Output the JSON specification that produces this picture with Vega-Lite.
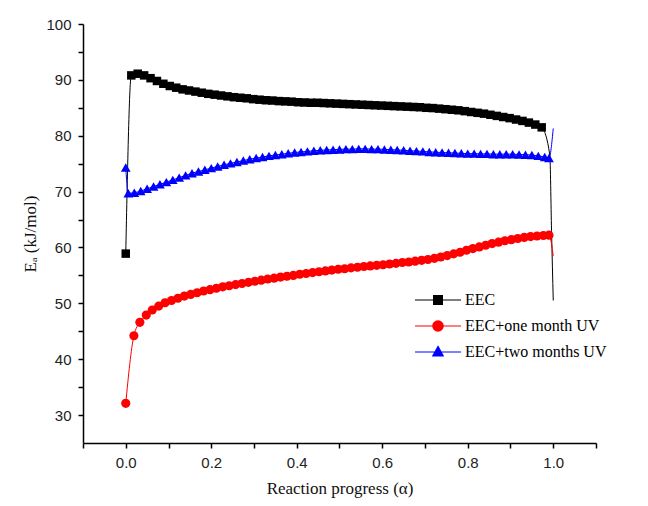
{
  "$schema": "https://vega.github.io/schema/vega-lite/v6.json",
  "width": 513,
  "height": 419,
  "autosize": {"type": "none"},
  "padding": {"left": 83, "top": 24, "right": 52, "bottom": 63},
  "background": "white",
  "config": {
    "view": {"stroke": null},
    "axis": {
      "grid": false,
      "domainColor": "#000000",
      "domainWidth": 1.5,
      "tickColor": "#000000",
      "tickWidth": 1.5,
      "tickSize": 5,
      "labelFont": "Liberation Sans",
      "labelFontSize": 15,
      "labelColor": "#222222",
      "labelPadding": 6,
      "titleFont": "Liberation Serif",
      "titleFontSize": 17,
      "titleFontWeight": "normal",
      "titleColor": "#111111"
    },
    "legend": {
      "orient": "none",
      "legendX": 347,
      "legendY": 268,
      "padding": 0,
      "labelFont": "Liberation Serif",
      "labelFontSize": 16,
      "labelColor": "#000000",
      "labelOffset": 19,
      "rowPadding": 10,
      "symbolSize": 64,
      "symbolOpacity": 1,
      "symbolStrokeWidth": 1.2
    }
  },
  "resolve": {"scale": {"color": "independent", "shape": "independent"}},
  "data": {
    "values": [
      {"s": "EEC", "a": 0, "e": 58.9},
      {"s": "EEC", "a": 0.013, "e": 90.8},
      {"s": "EEC", "a": 0.028, "e": 91.1},
      {"s": "EEC", "a": 0.043, "e": 90.8},
      {"s": "EEC", "a": 0.058, "e": 90.3},
      {"s": "EEC", "a": 0.073, "e": 89.8},
      {"s": "EEC", "a": 0.088, "e": 89.3},
      {"s": "EEC", "a": 0.103, "e": 88.9},
      {"s": "EEC", "a": 0.118, "e": 88.6},
      {"s": "EEC", "a": 0.133, "e": 88.3},
      {"s": "EEC", "a": 0.148, "e": 88.1},
      {"s": "EEC", "a": 0.163, "e": 87.9},
      {"s": "EEC", "a": 0.178, "e": 87.7},
      {"s": "EEC", "a": 0.193, "e": 87.5},
      {"s": "EEC", "a": 0.208, "e": 87.35},
      {"s": "EEC", "a": 0.223, "e": 87.2},
      {"s": "EEC", "a": 0.238, "e": 87.05},
      {"s": "EEC", "a": 0.253, "e": 86.9},
      {"s": "EEC", "a": 0.268, "e": 86.8},
      {"s": "EEC", "a": 0.283, "e": 86.7},
      {"s": "EEC", "a": 0.298, "e": 86.55},
      {"s": "EEC", "a": 0.313, "e": 86.45},
      {"s": "EEC", "a": 0.328, "e": 86.35},
      {"s": "EEC", "a": 0.343, "e": 86.3},
      {"s": "EEC", "a": 0.358, "e": 86.2},
      {"s": "EEC", "a": 0.373, "e": 86.15},
      {"s": "EEC", "a": 0.388, "e": 86.1},
      {"s": "EEC", "a": 0.403, "e": 86.0},
      {"s": "EEC", "a": 0.418, "e": 85.95},
      {"s": "EEC", "a": 0.433, "e": 85.9},
      {"s": "EEC", "a": 0.448, "e": 85.9},
      {"s": "EEC", "a": 0.463, "e": 85.85},
      {"s": "EEC", "a": 0.478, "e": 85.8},
      {"s": "EEC", "a": 0.493, "e": 85.75},
      {"s": "EEC", "a": 0.508, "e": 85.7},
      {"s": "EEC", "a": 0.523, "e": 85.65},
      {"s": "EEC", "a": 0.538, "e": 85.6},
      {"s": "EEC", "a": 0.553, "e": 85.55},
      {"s": "EEC", "a": 0.568, "e": 85.5},
      {"s": "EEC", "a": 0.583, "e": 85.45},
      {"s": "EEC", "a": 0.598, "e": 85.4},
      {"s": "EEC", "a": 0.613, "e": 85.35},
      {"s": "EEC", "a": 0.628, "e": 85.3},
      {"s": "EEC", "a": 0.643, "e": 85.25},
      {"s": "EEC", "a": 0.658, "e": 85.2},
      {"s": "EEC", "a": 0.673, "e": 85.15},
      {"s": "EEC", "a": 0.688, "e": 85.1},
      {"s": "EEC", "a": 0.703, "e": 85.0},
      {"s": "EEC", "a": 0.718, "e": 84.95},
      {"s": "EEC", "a": 0.733, "e": 84.85},
      {"s": "EEC", "a": 0.748, "e": 84.75},
      {"s": "EEC", "a": 0.763, "e": 84.65},
      {"s": "EEC", "a": 0.778, "e": 84.55},
      {"s": "EEC", "a": 0.793, "e": 84.4},
      {"s": "EEC", "a": 0.808, "e": 84.25},
      {"s": "EEC", "a": 0.823, "e": 84.1},
      {"s": "EEC", "a": 0.838, "e": 83.95},
      {"s": "EEC", "a": 0.853, "e": 83.75},
      {"s": "EEC", "a": 0.868, "e": 83.55},
      {"s": "EEC", "a": 0.883, "e": 83.35},
      {"s": "EEC", "a": 0.898, "e": 83.15},
      {"s": "EEC", "a": 0.913, "e": 82.9},
      {"s": "EEC", "a": 0.928, "e": 82.65},
      {"s": "EEC", "a": 0.943, "e": 82.35},
      {"s": "EEC", "a": 0.958, "e": 82.0},
      {"s": "EEC", "a": 0.973, "e": 81.5},
      {"s": "EEC", "a": 0.992, "e": 76.5},
      {"s": "EEC", "a": 0.996, "e": 63.0},
      {"s": "EEC", "a": 1.0, "e": 50.5},

      {"s": "EEC+one month UV", "a": 0, "e": 32.1},
      {"s": "EEC+one month UV", "a": 0.019, "e": 44.2},
      {"s": "EEC+one month UV", "a": 0.033, "e": 46.6},
      {"s": "EEC+one month UV", "a": 0.048, "e": 47.9},
      {"s": "EEC+one month UV", "a": 0.062, "e": 48.8},
      {"s": "EEC+one month UV", "a": 0.077, "e": 49.5},
      {"s": "EEC+one month UV", "a": 0.092, "e": 50.1},
      {"s": "EEC+one month UV", "a": 0.107, "e": 50.5},
      {"s": "EEC+one month UV", "a": 0.122, "e": 50.9},
      {"s": "EEC+one month UV", "a": 0.137, "e": 51.3},
      {"s": "EEC+one month UV", "a": 0.152, "e": 51.6},
      {"s": "EEC+one month UV", "a": 0.167, "e": 51.9},
      {"s": "EEC+one month UV", "a": 0.182, "e": 52.2},
      {"s": "EEC+one month UV", "a": 0.197, "e": 52.45},
      {"s": "EEC+one month UV", "a": 0.212, "e": 52.7},
      {"s": "EEC+one month UV", "a": 0.227, "e": 52.95},
      {"s": "EEC+one month UV", "a": 0.242, "e": 53.15},
      {"s": "EEC+one month UV", "a": 0.257, "e": 53.35},
      {"s": "EEC+one month UV", "a": 0.272, "e": 53.55},
      {"s": "EEC+one month UV", "a": 0.287, "e": 53.75},
      {"s": "EEC+one month UV", "a": 0.302, "e": 53.95},
      {"s": "EEC+one month UV", "a": 0.317, "e": 54.15},
      {"s": "EEC+one month UV", "a": 0.332, "e": 54.35},
      {"s": "EEC+one month UV", "a": 0.347, "e": 54.5},
      {"s": "EEC+one month UV", "a": 0.362, "e": 54.7},
      {"s": "EEC+one month UV", "a": 0.377, "e": 54.85},
      {"s": "EEC+one month UV", "a": 0.392, "e": 55.0},
      {"s": "EEC+one month UV", "a": 0.407, "e": 55.2},
      {"s": "EEC+one month UV", "a": 0.422, "e": 55.35},
      {"s": "EEC+one month UV", "a": 0.437, "e": 55.5},
      {"s": "EEC+one month UV", "a": 0.452, "e": 55.65},
      {"s": "EEC+one month UV", "a": 0.467, "e": 55.8},
      {"s": "EEC+one month UV", "a": 0.482, "e": 55.95},
      {"s": "EEC+one month UV", "a": 0.497, "e": 56.1},
      {"s": "EEC+one month UV", "a": 0.512, "e": 56.2},
      {"s": "EEC+one month UV", "a": 0.527, "e": 56.35},
      {"s": "EEC+one month UV", "a": 0.542, "e": 56.45},
      {"s": "EEC+one month UV", "a": 0.557, "e": 56.6},
      {"s": "EEC+one month UV", "a": 0.572, "e": 56.7},
      {"s": "EEC+one month UV", "a": 0.587, "e": 56.8},
      {"s": "EEC+one month UV", "a": 0.602, "e": 56.9},
      {"s": "EEC+one month UV", "a": 0.617, "e": 57.05},
      {"s": "EEC+one month UV", "a": 0.632, "e": 57.15},
      {"s": "EEC+one month UV", "a": 0.647, "e": 57.3},
      {"s": "EEC+one month UV", "a": 0.662, "e": 57.4},
      {"s": "EEC+one month UV", "a": 0.677, "e": 57.55},
      {"s": "EEC+one month UV", "a": 0.692, "e": 57.7},
      {"s": "EEC+one month UV", "a": 0.707, "e": 57.85},
      {"s": "EEC+one month UV", "a": 0.722, "e": 58.05},
      {"s": "EEC+one month UV", "a": 0.737, "e": 58.3},
      {"s": "EEC+one month UV", "a": 0.752, "e": 58.55},
      {"s": "EEC+one month UV", "a": 0.767, "e": 58.85},
      {"s": "EEC+one month UV", "a": 0.782, "e": 59.15},
      {"s": "EEC+one month UV", "a": 0.797, "e": 59.5},
      {"s": "EEC+one month UV", "a": 0.812, "e": 59.8},
      {"s": "EEC+one month UV", "a": 0.827, "e": 60.1},
      {"s": "EEC+one month UV", "a": 0.842, "e": 60.4},
      {"s": "EEC+one month UV", "a": 0.857, "e": 60.7},
      {"s": "EEC+one month UV", "a": 0.872, "e": 60.95},
      {"s": "EEC+one month UV", "a": 0.887, "e": 61.2},
      {"s": "EEC+one month UV", "a": 0.902, "e": 61.4},
      {"s": "EEC+one month UV", "a": 0.917, "e": 61.6},
      {"s": "EEC+one month UV", "a": 0.932, "e": 61.8},
      {"s": "EEC+one month UV", "a": 0.947, "e": 61.95},
      {"s": "EEC+one month UV", "a": 0.962, "e": 62.05},
      {"s": "EEC+one month UV", "a": 0.977, "e": 62.15},
      {"s": "EEC+one month UV", "a": 0.99, "e": 62.2},
      {"s": "EEC+one month UV", "a": 1.0, "e": 58.5},

      {"s": "EEC+two months UV", "a": 0, "e": 74.3},
      {"s": "EEC+two months UV", "a": 0.006, "e": 69.7},
      {"s": "EEC+two months UV", "a": 0.02, "e": 69.8},
      {"s": "EEC+two months UV", "a": 0.035, "e": 70.1},
      {"s": "EEC+two months UV", "a": 0.05, "e": 70.5},
      {"s": "EEC+two months UV", "a": 0.065, "e": 70.9},
      {"s": "EEC+two months UV", "a": 0.08, "e": 71.3},
      {"s": "EEC+two months UV", "a": 0.095, "e": 71.7},
      {"s": "EEC+two months UV", "a": 0.11, "e": 72.1},
      {"s": "EEC+two months UV", "a": 0.125, "e": 72.5},
      {"s": "EEC+two months UV", "a": 0.14, "e": 72.9},
      {"s": "EEC+two months UV", "a": 0.155, "e": 73.3},
      {"s": "EEC+two months UV", "a": 0.17, "e": 73.6},
      {"s": "EEC+two months UV", "a": 0.185, "e": 73.9},
      {"s": "EEC+two months UV", "a": 0.2, "e": 74.2},
      {"s": "EEC+two months UV", "a": 0.215, "e": 74.5},
      {"s": "EEC+two months UV", "a": 0.23, "e": 74.8},
      {"s": "EEC+two months UV", "a": 0.245, "e": 75.05},
      {"s": "EEC+two months UV", "a": 0.26, "e": 75.3},
      {"s": "EEC+two months UV", "a": 0.275, "e": 75.55},
      {"s": "EEC+two months UV", "a": 0.29, "e": 75.8},
      {"s": "EEC+two months UV", "a": 0.305, "e": 76.0},
      {"s": "EEC+two months UV", "a": 0.32, "e": 76.2},
      {"s": "EEC+two months UV", "a": 0.335, "e": 76.4},
      {"s": "EEC+two months UV", "a": 0.35, "e": 76.55},
      {"s": "EEC+two months UV", "a": 0.365, "e": 76.7},
      {"s": "EEC+two months UV", "a": 0.38, "e": 76.85},
      {"s": "EEC+two months UV", "a": 0.395, "e": 77.0},
      {"s": "EEC+two months UV", "a": 0.41, "e": 77.1},
      {"s": "EEC+two months UV", "a": 0.425, "e": 77.2},
      {"s": "EEC+two months UV", "a": 0.44, "e": 77.3},
      {"s": "EEC+two months UV", "a": 0.455, "e": 77.4},
      {"s": "EEC+two months UV", "a": 0.47, "e": 77.45},
      {"s": "EEC+two months UV", "a": 0.485, "e": 77.5},
      {"s": "EEC+two months UV", "a": 0.5, "e": 77.55},
      {"s": "EEC+two months UV", "a": 0.515, "e": 77.6},
      {"s": "EEC+two months UV", "a": 0.53, "e": 77.6},
      {"s": "EEC+two months UV", "a": 0.545, "e": 77.65},
      {"s": "EEC+two months UV", "a": 0.56, "e": 77.65},
      {"s": "EEC+two months UV", "a": 0.575, "e": 77.6},
      {"s": "EEC+two months UV", "a": 0.59, "e": 77.6},
      {"s": "EEC+two months UV", "a": 0.605, "e": 77.55},
      {"s": "EEC+two months UV", "a": 0.62, "e": 77.5},
      {"s": "EEC+two months UV", "a": 0.635, "e": 77.45},
      {"s": "EEC+two months UV", "a": 0.65, "e": 77.4},
      {"s": "EEC+two months UV", "a": 0.665, "e": 77.3},
      {"s": "EEC+two months UV", "a": 0.68, "e": 77.25},
      {"s": "EEC+two months UV", "a": 0.695, "e": 77.2},
      {"s": "EEC+two months UV", "a": 0.71, "e": 77.1},
      {"s": "EEC+two months UV", "a": 0.725, "e": 77.05},
      {"s": "EEC+two months UV", "a": 0.74, "e": 77.0},
      {"s": "EEC+two months UV", "a": 0.755, "e": 76.95},
      {"s": "EEC+two months UV", "a": 0.77, "e": 76.9},
      {"s": "EEC+two months UV", "a": 0.785, "e": 76.85},
      {"s": "EEC+two months UV", "a": 0.8, "e": 76.8},
      {"s": "EEC+two months UV", "a": 0.815, "e": 76.8},
      {"s": "EEC+two months UV", "a": 0.83, "e": 76.75},
      {"s": "EEC+two months UV", "a": 0.845, "e": 76.75},
      {"s": "EEC+two months UV", "a": 0.86, "e": 76.7},
      {"s": "EEC+two months UV", "a": 0.875, "e": 76.7},
      {"s": "EEC+two months UV", "a": 0.89, "e": 76.7},
      {"s": "EEC+two months UV", "a": 0.905, "e": 76.7},
      {"s": "EEC+two months UV", "a": 0.92, "e": 76.65},
      {"s": "EEC+two months UV", "a": 0.935, "e": 76.6},
      {"s": "EEC+two months UV", "a": 0.95, "e": 76.55},
      {"s": "EEC+two months UV", "a": 0.965, "e": 76.4},
      {"s": "EEC+two months UV", "a": 0.98, "e": 76.2},
      {"s": "EEC+two months UV", "a": 0.99, "e": 76.0},
      {"s": "EEC+two months UV", "a": 1.0, "e": 81.3}
    ]
  },
  "encoding": {
    "x": {
      "field": "a",
      "type": "quantitative",
      "title": "Reaction progress (α)",
      "scale": {"domain": [-0.1, 1.1], "nice": false, "zero": false},
      "axis": {
        "values": [-0.1, 0, 0.1, 0.2, 0.3, 0.4, 0.5, 0.6, 0.7, 0.8, 0.9, 1.0, 1.1],
        "labelExpr": "(datum.value > -0.05 && datum.value < 1.05 && round(datum.value * 10) % 2 == 0) ? format(datum.value, '.1f') : ''",
        "labelPadding": 7,
        "titlePadding": 10
      }
    },
    "y": {
      "field": "e",
      "type": "quantitative",
      "title": "Eₐ (kJ/mol)",
      "scale": {"domain": [25, 100], "nice": false, "zero": false},
      "axis": {
        "values": [30, 35, 40, 45, 50, 55, 60, 65, 70, 75, 80, 85, 90, 95, 100],
        "labelExpr": "datum.value % 10 == 0 ? datum.label : ''",
        "labelPadding": 7,
        "titlePadding": 6
      }
    }
  },
  "layer": [
    {
      "mark": {"type": "line", "strokeWidth": 1, "interpolate": "monotone"},
      "encoding": {
        "color": {
          "field": "s",
          "type": "nominal",
          "legend": null,
          "scale": {
            "domain": ["EEC", "EEC+one month UV", "EEC+two months UV"],
            "range": ["#000000", "#ff0000", "#0000ff"]
          }
        }
      }
    },
    {
      "transform": [{"filter": "datum.a <= 0.99"}],
      "mark": {"type": "point", "filled": true, "opacity": 1},
      "encoding": {
        "color": {
          "field": "s",
          "type": "nominal",
          "legend": null,
          "scale": {
            "domain": ["EEC", "EEC+one month UV", "EEC+two months UV"],
            "range": ["#000000", "#ff0000", "#0000ff"]
          }
        },
        "shape": {
          "field": "s",
          "type": "nominal",
          "legend": null,
          "scale": {
            "domain": ["EEC", "EEC+one month UV", "EEC+two months UV"],
            "range": ["square", "circle", "triangle-up"]
          }
        },
        "size": {
          "field": "s",
          "type": "nominal",
          "legend": null,
          "scale": {
            "domain": ["EEC", "EEC+one month UV", "EEC+two months UV"],
            "range": [72, 95, 75]
          }
        }
      }
    },
    {
      "transform": [{"filter": "datum.a > 5"}],
      "mark": {"type": "point", "filled": false, "strokeWidth": 1.2, "opacity": 1},
      "encoding": {
        "color": {
          "field": "s",
          "type": "nominal",
          "title": null,
          "legend": {"title": null},
          "scale": {
            "domain": ["EEC", "EEC+one month UV", "EEC+two months UV"],
            "range": ["#000000", "#ff0000", "#0000ff"]
          }
        },
        "shape": {
          "field": "s",
          "type": "nominal",
          "title": null,
          "legend": {"title": null},
          "scale": {
            "domain": ["EEC", "EEC+one month UV", "EEC+two months UV"],
            "range": [
              "M-5.75,0H5.75M-1.1,-1.1H1.1V1.1H-1.1ZM-1.1,-0.85H1.1M-1.1,-0.6H1.1M-1.1,-0.35H1.1M-1.1,-0.1H1.1M-1.1,0.15H1.1M-1.1,0.4H1.1M-1.1,0.65H1.1M-1.1,0.9H1.1",
              "M-5.75,0H5.75M-1.3,0A1.3,1.3 0 1,0 1.3,0A1.3,1.3 0 1,0 -1.3,0M-1.276,-0.25H1.276M-1.276,0.25H1.276M-1.2,-0.5H1.2M-1.2,0.5H1.2M-1.062,-0.75H1.062M-1.062,0.75H1.062M-0.831,-1H0.831M-0.831,1H0.831M-0.5,-1.2H0.5M-0.5,1.2H0.5",
              "M-5.75,0H5.75M0,-1.4L1.3,0.95H-1.3ZM-0.14,-1.15H0.14M-0.28,-0.9H0.28M-0.42,-0.65H0.42M-0.55,-0.4H0.55M-0.69,-0.15H0.69M-0.83,0.1H0.83M-0.97,0.35H0.97M-1.11,0.6H1.11M-1.25,0.85H1.25"
            ]
          }
        }
      }
    }
  ]
}
